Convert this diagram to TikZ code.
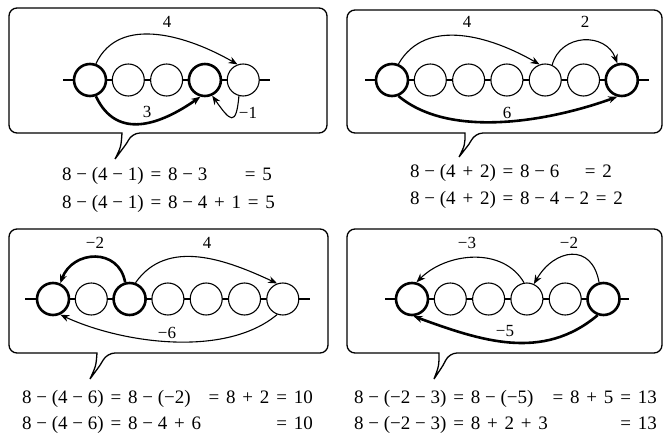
\documentclass[tikz,border=0pt]{standalone}
\usepackage{fontspec}
\setmainfont{Liberation Serif}
\usetikzlibrary{arrows.meta,positioning}

% wider gaps round = and +
\newcommand{\eqsign}{\hspace{6.8pt}=\hspace{6.8pt}}
\newcommand{\plussign}{\hspace{6.8pt}+\hspace{6.8pt}}

\begin{document}
\begin{tikzpicture}[
    x=1pt, y=1pt,
    every node/.style={font=\fontsize{17}{19}\selectfont, inner sep=0pt},
    light/.style={circle, draw, fill=white, line width=1.1pt, minimum size=32pt},
    heavy/.style={light, line width=2.6pt},
    axis/.style={line width=1.1pt},
    jump/.style={-{Stealth[length=9pt,width=7pt]}, line width=1.1pt},
    bigjump/.style={jump, line width=2.6pt},
    bubble/.style={line width=1.3pt},
    eq/.style={font=\fontsize{19}{21}\selectfont}
]
\useasboundingbox (0,0) rectangle (664,432);

% Panel A: 8 - (4 - 1)
\draw[bubble] (115,273) .. controls (121,285) .. (122,299) [rounded corners=8] -- (9,299) -- (9,424) -- (327,424) -- (327,299) -- (132,299) [sharp corners] .. controls (127,289) .. (115,273);
\coordinate (aL) at (63,352);
\coordinate (aR) at (270,352);
\draw[axis] (aL) -- (aR);
\foreach \i/\s in {1/heavy,2/light,3/light,4/heavy,5/light}
    \node[\s] (a\i) at ({90+38.3*(\i-1)},352) {};
\draw[jump] (a1.70) to[out=65,in=150] (a5.110);
\draw[bigjump] (a1.-70) to[out=-65,in=-145,looseness=1.2] (a4.-105);
\draw[jump] (a5.-105) to[out=-95,in=-55,looseness=3] (a4.-65);
\node (tA1) at (167,410) {4};
\node (tA2) at (147,320) {3};
\node (tA3) at (248,319) {−1};
\node[eq, anchor=base west] (eA1) at (62,252) {8 − (4 − 1)\eqsign 8 − 3};
\node[eq, anchor=base east] (eA1r) at (272,252) {=\hspace{6.8pt}5};
\node[eq, anchor=base west] (eA2) at (62,224) {8 − (4 − 1)\eqsign 8 − 4\plussign 1\eqsign 5};

% Panel B: 8 - (4 + 2)
\draw[bubble] (459,275) .. controls (465,287) .. (465,299) [rounded corners=8] -- (347,299) -- (347,422) -- (662,422) -- (662,299) -- (475,299) [sharp corners] .. controls (470,289) .. (459,275);
\coordinate (bL) at (365,352);
\coordinate (bR) at (649,352);
\draw[axis] (bL) -- (bR);
\foreach \i/\s in {1/heavy,2/light,3/light,4/light,5/light,6/light,7/heavy}
    \node[\s] (b\i) at ({392+38.3*(\i-1)},352) {};
\draw[jump] (b1.68) to[out=60,in=150] (b5.110);
\draw[jump] (b5.65) to[out=75,in=110,looseness=1.3] (b7.105);
\draw[bigjump] (b1.-68) to[out=-40,in=-160,looseness=0.8] (b7.-105);
\node (tB1) at (467,410) {4};
\node (tB2) at (585,410) {2};
\node (tB3) at (507,319) {6};
\node[eq, anchor=base west] (eB1) at (410,255) {8 − (4\plussign 2)\eqsign 8 − 6};
\node[eq, anchor=base east] (eB1r) at (612,255) {=\hspace{6.8pt}2};
\node[eq, anchor=base west] (eB2) at (410,228) {8 − (4\plussign 2)\eqsign 8 − 4 − 2\eqsign 2};

% Panel C: 8 - (4 - 6)
\draw[bubble] (90,53) .. controls (96,66) .. (97,79) [rounded corners=8] -- (9,79) -- (9,203) -- (328,203) -- (328,79) -- (107,79) [sharp corners] .. controls (101,68) .. (90,53);
\coordinate (cL) at (25,133);
\coordinate (cR) at (310,133);
\draw[axis] (cL) -- (cR);
\foreach \i/\s in {1/heavy,2/light,3/heavy,4/light,5/light,6/light,7/light}
    \node[\s] (c\i) at ({53+38.3*(\i-1)},133) {};
\draw[bigjump] (c3.105) to[out=100,in=70,looseness=1.4] (c1.65);
\draw[jump] (c3.70) to[out=55,in=155] (c7.110);
\draw[jump] (c7.-110) to[out=-140,in=-25,looseness=0.8] (c1.-65);
\node (tC1) at (95,189) {−2};
\node (tC2) at (207,189) {4};
\node (tC3) at (167,99) {−6};
\node[eq, anchor=base west] (eC1) at (22,29) {8 − (4 − 6)\eqsign 8 − (−2)};
\node[eq, anchor=base east] (eC1r) at (313,29) {=\hspace{6.8pt}8\plussign 2\eqsign 10};
\node[eq, anchor=base west] (eC2) at (22,3) {8 − (4 − 6)\eqsign 8 − 4\plussign 6};
\node[eq, anchor=base east] (eC2r) at (313,3) {=\hspace{6.8pt}10};

% Panel D: 8 - (-2 - 3)
\draw[bubble] (434,53) .. controls (439,66) .. (439,79) [rounded corners=8] -- (347,79) -- (347,203) -- (662,203) -- (662,79) -- (449,79) [sharp corners] .. controls (444,68) .. (434,53);
\coordinate (dL) at (385,133);
\coordinate (dR) at (629,133);
\draw[axis] (dL) -- (dR);
\foreach \i/\s in {1/heavy,2/light,3/light,4/light,5/light,6/heavy}
    \node[\s] (d\i) at ({412+38.3*(\i-1)},133) {};
\draw[jump] (d4.100) to[out=120,in=45] (d1.75);
\draw[jump] (d6.105) to[out=100,in=60,looseness=1.6] (d4.65);
\draw[bigjump] (d6.-110) to[out=-140,in=-20] (d1.-85);
\node (tD1) at (467,189) {−3};
\node (tD2) at (569,189) {−2};
\node (tD3) at (505,101) {−5};
\node[eq, anchor=base west] (eD1) at (354,29) {8 − (−2 − 3)\eqsign 8 − (−5)};
\node[eq, anchor=base east] (eD1r) at (657,29) {=\hspace{6.8pt}8\plussign 5\eqsign 13};
\node[eq, anchor=base west] (eD2) at (354,3) {8 − (−2 − 3)\eqsign 8\plussign 2\plussign 3};
\node[eq, anchor=base east] (eD2r) at (657,3) {=\hspace{6.8pt}13};

\end{tikzpicture}
\end{document}
